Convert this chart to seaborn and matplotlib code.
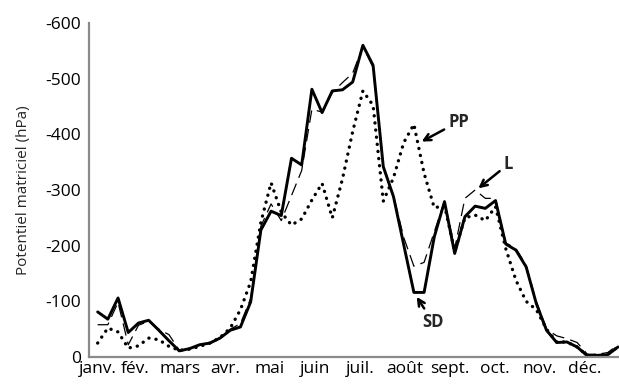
import numpy as np
import pandas as pd
import matplotlib
matplotlib.use("Agg")
import matplotlib.pyplot as plt
import matplotlib.transforms as mtransforms
import seaborn as sns

# month labels on the x axis (tick at the start of each month)
MONTHS = ['janv.', 'fév.', 'mars', 'avr.', 'mai', 'juin', 'juil.', 'août',
          'sept.', 'oct.', 'nov.', 'déc.']

# weekly readings, position expressed in months since 1 January
week_pos = [0.17 + 0.2267 * k for k in range(52)]

# matric potential magnitudes (hPa), plotted as negative values
sd = [81, 68, 106, 44, 61, 66, 48, 29, 11, 15, 22, 25, 34, 48, 54, 99,
      228, 262, 254, 357, 345, 481, 439, 478, 480, 494, 560, 524, 342, 288,
      202, 116, 116, 216, 279, 186, 252, 271, 267, 281, 203, 192, 162, 96,
      48, 26, 27, 18, 2, 3, 4, 18]
l = [58, 58, 98, 22, 57, 64, 50, 40, 12, 15, 22, 26, 35, 50, 60, 105,
     235, 275, 245, 290, 335, 445, 440, 475, 493, 510, 558, 520, 340, 290,
     215, 163, 170, 225, 280, 195, 285, 300, 285, 285, 205, 195, 165, 100,
     50, 38, 33, 26, 5, 5, 8, 22]
pp = [25, 52, 45, 16, 20, 34, 31, 19, 12, 14, 19, 25, 35, 52, 85, 135,
      242, 313, 260, 237, 248, 282, 312, 250, 320, 405, 478, 452, 280, 322,
      385, 418, 330, 268, 272, 190, 250, 255, 245, 270, 195, 138, 100, 85,
      50, 27, 27, 18, 3, 3, 5, 18]

df = pd.DataFrame({'mois': week_pos,
                   'SD': -np.array(sd), 'L': -np.array(l), 'PP': -np.array(pp)})

sns.set_theme(style='white')
plt.rcParams['font.family'] = ['Open Sans', 'DejaVu Sans']
plt.rcParams['axes.unicode_minus'] = False

fig = plt.figure(figsize=(6.19, 3.85), dpi=100)
ax = fig.add_axes([89 / 619, 28 / 385, 530 / 619, 334 / 385])

sns.lineplot(data=df, x='mois', y='PP', ax=ax, color='black', lw=2.4,
             linestyle=(0, (0.05, 2.1)), dash_capstyle='round', sort=False)
sns.lineplot(data=df, x='mois', y='L', ax=ax, color='black', lw=0.9,
             linestyle=(0, (10, 5)), sort=False)
sns.lineplot(data=df, x='mois', y='SD', ax=ax, color='black', lw=2.1,
             sort=False)

ax.set_xlim(-1 / 45, 529 / 45)
ax.set_ylim(0, -600)
ax.set_yticks(range(0, -700, -100))
ax.set_xticks(range(12))
ax.set_xticklabels(MONTHS)
ax.set_xlabel('')
ax.set_ylabel('Potentiel matriciel (hPa)', fontsize=11, labelpad=10)

grey = '#8a8a8a'
for side in ['top', 'right']:
    ax.spines[side].set_visible(False)
for side in ['left', 'bottom']:
    ax.spines[side].set_color(grey)
    ax.spines[side].set_linewidth(1.6)
ax.tick_params(axis='both', which='major', direction='out', color=grey,
               width=1.3, labelsize=12.5, labelcolor='black')
ax.tick_params(axis='y', length=4, pad=2)
ax.tick_params(axis='x', length=3, pad=0)

# first month label sits a little to the right, clear of the "0"
first = ax.get_xticklabels()[0]
first.set_transform(first.get_transform() +
                    mtransforms.ScaledTranslation(8 / 100, 0, fig.dpi_scale_trans))

arrow = dict(arrowstyle='->', color='black', lw=1.8,
             shrinkA=1, shrinkB=0, mutation_scale=12)
ax.annotate('PP', xy=(7.37, -387), xytext=(7.97, -423), fontsize=12,
            fontweight='bold', ha='left', va='center', arrowprops=arrow)
ax.annotate('L', xy=(8.63, -303), xytext=(9.2, -347), fontsize=12,
            fontweight='bold', ha='left', va='center', arrowprops=arrow)
ax.annotate('SD', xy=(7.26, -108), xytext=(7.62, -63), fontsize=12,
            fontweight='bold', ha='center', va='center', arrowprops=arrow)

fig.savefig('out.png', dpi=100)
